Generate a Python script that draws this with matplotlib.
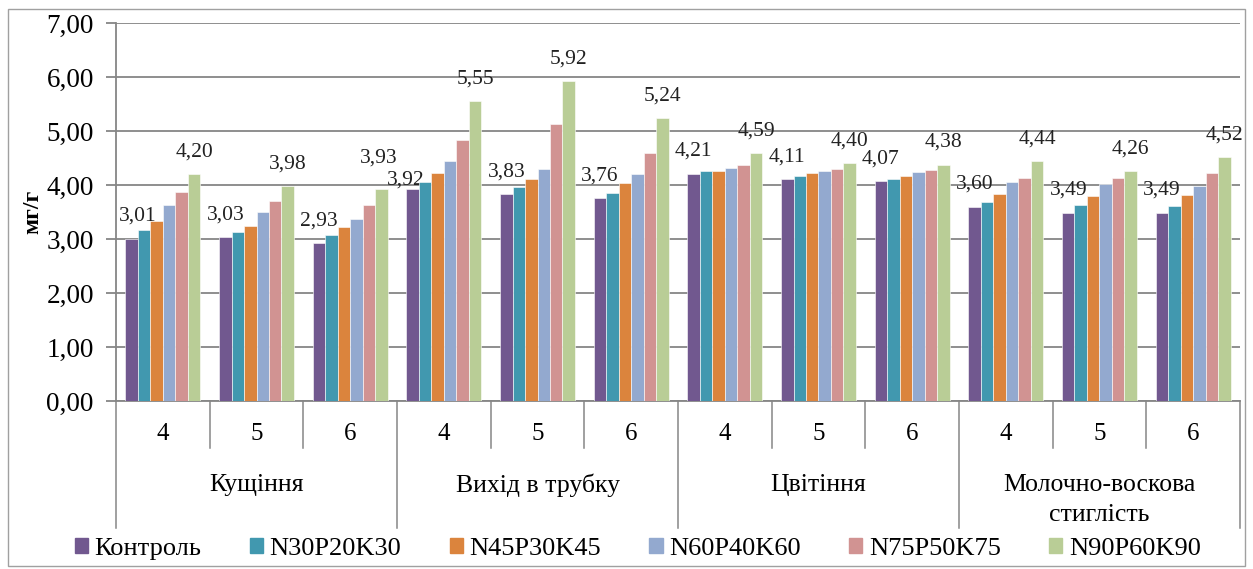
import matplotlib.pyplot as plt
import numpy as np
from matplotlib.patches import Rectangle

# Data
#---------------------------
phases = ["Кущіння", "Вихід в трубку", "Цвітіння", "Молочно-воскова\nстиглість"]
sub_labels = ["4", "5", "6"]
series_names = ["Контроль", "N30P20K30", "N45P30K45", "N60P40K60", "N75P50K75", "N90P60K90"]

kontrol   = [3.01, 3.03, 2.93, 3.92, 3.83, 3.76, 4.21, 4.11, 4.07, 3.60, 3.49, 3.49]
n30p20k30 = [3.17, 3.13, 3.08, 4.05, 3.96, 3.85, 4.26, 4.17, 4.12, 3.69, 3.63, 3.61]
n45p30k45 = [3.34, 3.25, 3.23, 4.22, 4.12, 4.03, 4.26, 4.23, 4.16, 3.84, 3.80, 3.81]
n60p40k60 = [3.63, 3.51, 3.38, 4.45, 4.29, 4.20, 4.32, 4.26, 4.25, 4.05, 4.02, 3.99]
n75p50k75 = [3.88, 3.71, 3.63, 4.83, 5.14, 4.60, 4.38, 4.29, 4.28, 4.13, 4.13, 4.22]
n90p60k90 = [4.20, 3.98, 3.93, 5.55, 5.92, 5.24, 4.59, 4.40, 4.38, 4.44, 4.26, 4.52]

series = [kontrol, n30p20k30, n45p30k45, n60p40k60, n75p50k75, n90p60k90]
colors = ["#71588F", "#4198AF", "#DB843D", "#93A9CF", "#D19392", "#B9CD96"]
labelled = [0, 5]  # only these series carry value labels
# labels moved by hand in the original so they don't collide (points)
label_nudge = {(0, 0): (4, 16), (0, 3): (-5, 7), (5, 2): (-2, 22)}

plt.rcParams['font.family'] = ['Liberation Serif', 'DejaVu Serif']

fig = plt.figure(figsize=(12.53, 5.69), dpi=100)
# outer chart border
fig.patches.append(Rectangle((0.006, 0.005), 0.988, 0.98, transform=fig.transFigure,
                             fill=False, edgecolor="#A0A0A0", linewidth=1))

ax = fig.add_axes([0.0926, 0.2953, 0.897, 0.664])

n_cat = len(kontrol)
x = np.arange(n_cat) + 0.5
w = 0.8 / len(series)

for i, (vals, c) in enumerate(zip(series, colors)):
    xs = x - 0.4 + w * (i + 0.5)
    ax.bar(xs, vals, width=w, color=c, edgecolor="white", linewidth=0.4, zorder=3)
    if i in labelled:
        for j, (xi, v) in enumerate(zip(xs, vals)):
            off = label_nudge.get((i, j), (0, 16))
            ax.annotate("{:.2f}".format(v).replace(".", ","), (xi, v),
                        xytext=off, textcoords="offset points",
                        ha="center", va="center", fontsize=15.5, color="#222222")

ax.set_xlim(0, n_cat)
ax.set_ylim(0, 7)
ax.set_yticks(range(8))
ax.set_yticklabels(["{},00".format(t) for t in range(8)], fontsize=19.5)
ax.yaxis.grid(True, color="#868686", linewidth=1.3, zorder=0)
ax.set_xticks([])
for s in ["top", "right"]:
    ax.spines[s].set_visible(False)
for s in ["left", "bottom"]:
    ax.spines[s].set_color("#868686")
    ax.spines[s].set_linewidth(1.3)
ax.tick_params(axis="y", length=7, color="#868686", width=1.3, pad=9)
ax.set_ylabel("мг/г", fontsize=17, fontweight="bold", labelpad=2)

# Multi-level category axis
#---------------------------
trans = ax.get_xaxis_transform()
y_sub = -0.124
y_grp = -0.336
for k in range(n_cat + 1):
    low = y_grp if k % 3 == 0 else y_sub
    ax.plot([k, k], [0, low], transform=trans, color="#868686", lw=1.1, clip_on=False)
for k in range(n_cat):
    ax.text(k + 0.5, -0.088, sub_labels[k % 3], transform=trans,
            ha="center", va="center", fontsize=18)
for g, name in enumerate(phases):
    ax.text(3 * g + 1.5, -0.193, name, transform=trans, ha="center", va="top",
            fontsize=18.5, linespacing=1.45)

# Legend
#---------------------------
handles = [Rectangle((0, 0), 1, 1, color=c) for c in colors]
fig.legend(handles, series_names, loc="center", bbox_to_anchor=(0.509, 0.035), ncol=6,
           frameon=False, fontsize=19, handlelength=0.5, handleheight=0.5,
           handletextpad=0.25, columnspacing=1.83)

plt.savefig("out.png", dpi=100)
